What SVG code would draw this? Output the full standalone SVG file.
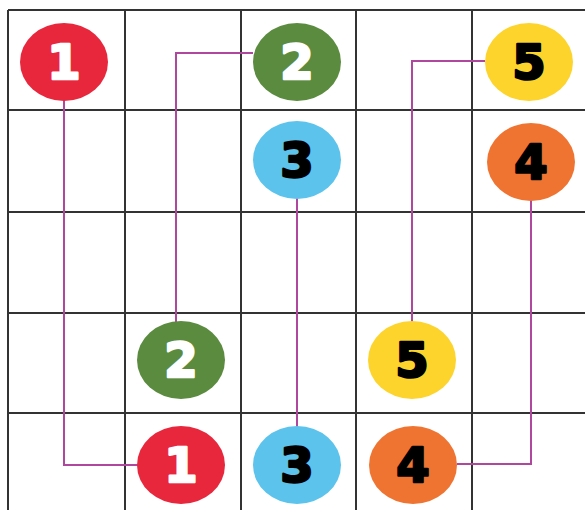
<svg xmlns="http://www.w3.org/2000/svg" width="585" height="510" viewBox="0 0 585 510">
<style>
.grid{stroke:#333;stroke-width:2;fill:none}
.link{stroke:#b0479f;stroke-width:2;fill:none}
.num{font-family:"DejaVu Sans",sans-serif;font-weight:bold;font-size:48px;text-anchor:middle;stroke-width:2.5;stroke-linejoin:round}
.w{fill:#fff;stroke:#fff}.k{fill:#000;stroke:#000}
.red{fill:#e8263c}.green{fill:#5b8b3f}.yellow{fill:#fdd42b}.blue{fill:#5cc3ec}.orange{fill:#f07431}
</style>
<rect width="585" height="510" fill="#fff"/>
<g id="grid" class="grid">
<path d="M8 10H585M8 110H585M8 212H585M8 313H585M8 413H585"/>
<path d="M8 10V510M125 10V510M241 10V510M356 10V510M472 10V510"/>
</g>
<g id="connectors" class="link">
<path d="M64 100V465H138"/>
<path d="M253 53H176V322"/>
<path d="M297 198V427"/>
<path d="M457 464H531V200"/>
<path d="M485 61H412V322"/>
</g>
<g id="n1a"><ellipse class="red" cx="64" cy="62" rx="44" ry="39"/><text class="num w" x="64" y="79">1</text></g>
<g id="n2a"><ellipse class="green" cx="297" cy="62" rx="44" ry="39"/><text class="num w" x="297" y="79">2</text></g>
<g id="n5a"><ellipse class="yellow" cx="529" cy="62" rx="44" ry="39"/><text class="num k" x="529" y="79">5</text></g>
<g id="n3a"><ellipse class="blue" cx="297" cy="160" rx="44" ry="39"/><text class="num k" x="297" y="177">3</text></g>
<g id="n4a"><ellipse class="orange" cx="531" cy="162" rx="44" ry="39"/><text class="num k" x="531" y="179">4</text></g>
<g id="n2b"><ellipse class="green" cx="181" cy="360" rx="44" ry="39"/><text class="num w" x="181" y="377">2</text></g>
<g id="n5b"><ellipse class="yellow" cx="412" cy="360" rx="44" ry="39"/><text class="num k" x="412" y="377">5</text></g>
<g id="n1b"><ellipse class="red" cx="181" cy="465" rx="44" ry="39"/><text class="num w" x="181" y="482">1</text></g>
<g id="n3b"><ellipse class="blue" cx="297" cy="465" rx="44" ry="39"/><text class="num k" x="297" y="482">3</text></g>
<g id="n4b"><ellipse class="orange" cx="413" cy="465" rx="44" ry="39"/><text class="num k" x="413" y="482">4</text></g>
</svg>
